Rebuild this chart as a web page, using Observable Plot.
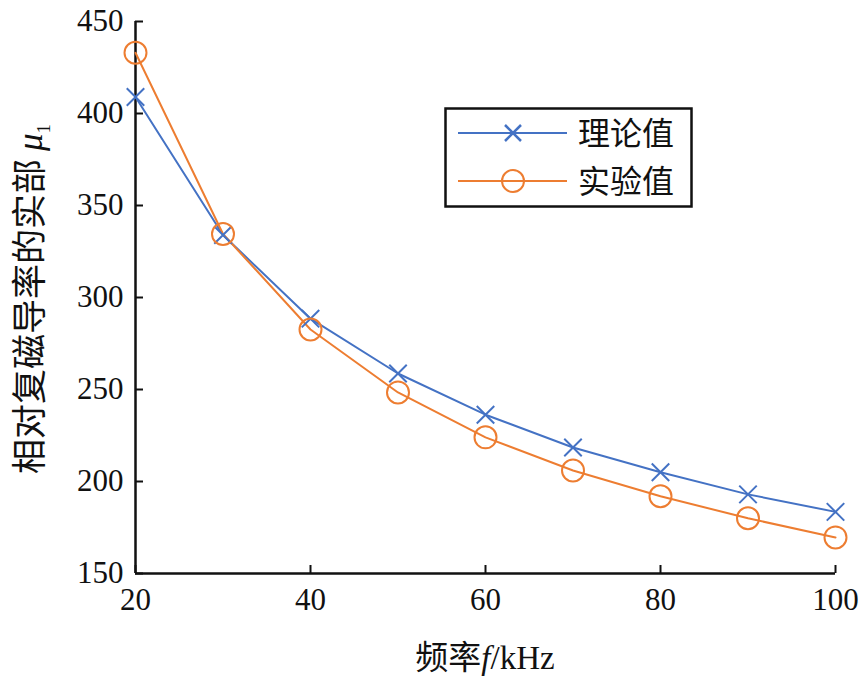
<!DOCTYPE html>
<html>
<head>
<meta charset="utf-8">
<script src="https://cdn.jsdelivr.net/npm/d3@7"></script>
<script src="https://cdn.jsdelivr.net/npm/@observablehq/plot@0.6"></script>
<style>
  html, body { margin: 0; padding: 0; background: #fff; }
  #wrap { position: relative; width: 859px; height: 679px; overflow: hidden; }
  .ylab { position: absolute; left: 31px; top: 299px; transform: translate(-50%, -50%) rotate(-90deg);
          white-space: nowrap; font-family: "Noto Sans CJK SC", sans-serif; font-size: 35px; line-height: 1.1; color: #111; }
  .xlab { position: absolute; left: 485px; top: 657px; transform: translate(-50%, -50%);
          white-space: nowrap; font-family: "Noto Sans CJK SC", sans-serif; font-size: 33px; line-height: 1.1; color: #111; }
  .serif { font-family: "Liberation Serif", "Times New Roman", serif; }
  #legend { position: absolute; left: 444px; top: 107px; }
</style>
</head>
<body>
<div id="wrap">
  <div id="chart"></div>
  <div class="ylab">相对复磁导率的实部 <span class="serif" style="font-style:italic">μ</span><sub class="serif" style="font-size:19px">1</sub></div>
  <div class="xlab">频率<span class="serif" style="font-style:italic">f</span><span class="serif">/kHz</span></div>
  <svg id="legend" width="250" height="102"></svg>
</div>
<script>
const freq = [20, 30, 40, 50, 60, 70, 80, 90, 100];
const theory = [409, 334, 288.5, 258.7, 236.3, 218.5, 205, 193, 183.5];
const experiment = [433, 334.5, 282.6, 248.4, 224, 206, 192, 180, 169.6];
const seriesNames = ["理论值", "实验值"];
const seriesColors = ["#4472C4", "#ED7D31"];
const xTicks = [20, 40, 60, 80, 100];
const yTicks = [150, 200, 250, 300, 350, 400, 450];

const rows = [];
freq.forEach((f, i) => {
  rows.push({f, v: theory[i], s: seriesNames[0]});
  rows.push({f, v: experiment[i], s: seriesNames[1]});
});
const tRows = rows.filter(d => d.s === seriesNames[0]);
const eRows = rows.filter(d => d.s === seriesNames[1]);

const font = "Liberation Serif, Times New Roman, serif";
const chart = Plot.plot({
  width: 859, height: 679,
  marginLeft: 135, marginRight: 24, marginTop: 21, marginBottom: 106,
  style: {fontFamily: font, fontSize: "31px", color: "#111", background: "white"},
  x: {domain: [20, 100], ticks: xTicks, label: null},
  y: {domain: [150, 450], ticks: yTicks, label: null},
  marks: [
    Plot.axisX(xTicks, {tickSize: 8, dy: -8, text: null, strokeWidth: 2, label: null}),
    Plot.axisX(xTicks, {tickSize: 0, tickPadding: 14, label: null, fontSize: 31}),
    Plot.axisY(yTicks, {tickSize: 8, dx: 8, text: null, strokeWidth: 2, label: null}),
    Plot.axisY(yTicks, {tickSize: 0, tickPadding: 12, label: null, fontSize: 31}),
    Plot.ruleX([20], {stroke: "#111", strokeWidth: 2.5}),
    Plot.ruleY([150], {stroke: "#111", strokeWidth: 2.5}),
    Plot.line(tRows, {x: "f", y: "v", stroke: seriesColors[0], strokeWidth: 2}),
    Plot.line(eRows, {x: "f", y: "v", stroke: seriesColors[1], strokeWidth: 2}),
    Plot.dot(tRows, {x: "f", y: "v", symbol: "times", r: 8, stroke: seriesColors[0], strokeWidth: 2}),
    Plot.dot(eRows, {x: "f", y: "v", symbol: "circle", r: 11, stroke: seriesColors[1], strokeWidth: 2, fill: "none"})
  ]
});
document.getElementById("chart").appendChild(chart);

// Legend
const lg = d3.select("#legend");
lg.append("rect").attr("x", 1.5).attr("y", 1.5).attr("width", 246).attr("height", 98)
  .attr("fill", "white").attr("stroke", "#111").attr("stroke-width", 2.5);
seriesNames.forEach((name, i) => {
  const cy = 26 + i * 48;
  const c = seriesColors[i];
  lg.append("line").attr("x1", 14).attr("x2", 123).attr("y1", cy).attr("y2", cy)
    .attr("stroke", c).attr("stroke-width", 2);
  if (i === 0) {
    const s = 8;
    lg.append("path").attr("d", `M${69 - s},${cy - s}L${69 + s},${cy + s}M${69 - s},${cy + s}L${69 + s},${cy - s}`)
      .attr("stroke", c).attr("stroke-width", 2.5).attr("fill", "none");
  } else {
    lg.append("circle").attr("cx", 69).attr("cy", cy).attr("r", 11)
      .attr("stroke", c).attr("stroke-width", 2).attr("fill", "none");
  }
  lg.append("text").attr("x", 134).attr("y", cy).attr("dy", "0.36em")
    .attr("font-family", "Noto Sans CJK SC, sans-serif").attr("font-size", 32).attr("fill", "#111")
    .text(name);
});
</script>
</body>
</html>
